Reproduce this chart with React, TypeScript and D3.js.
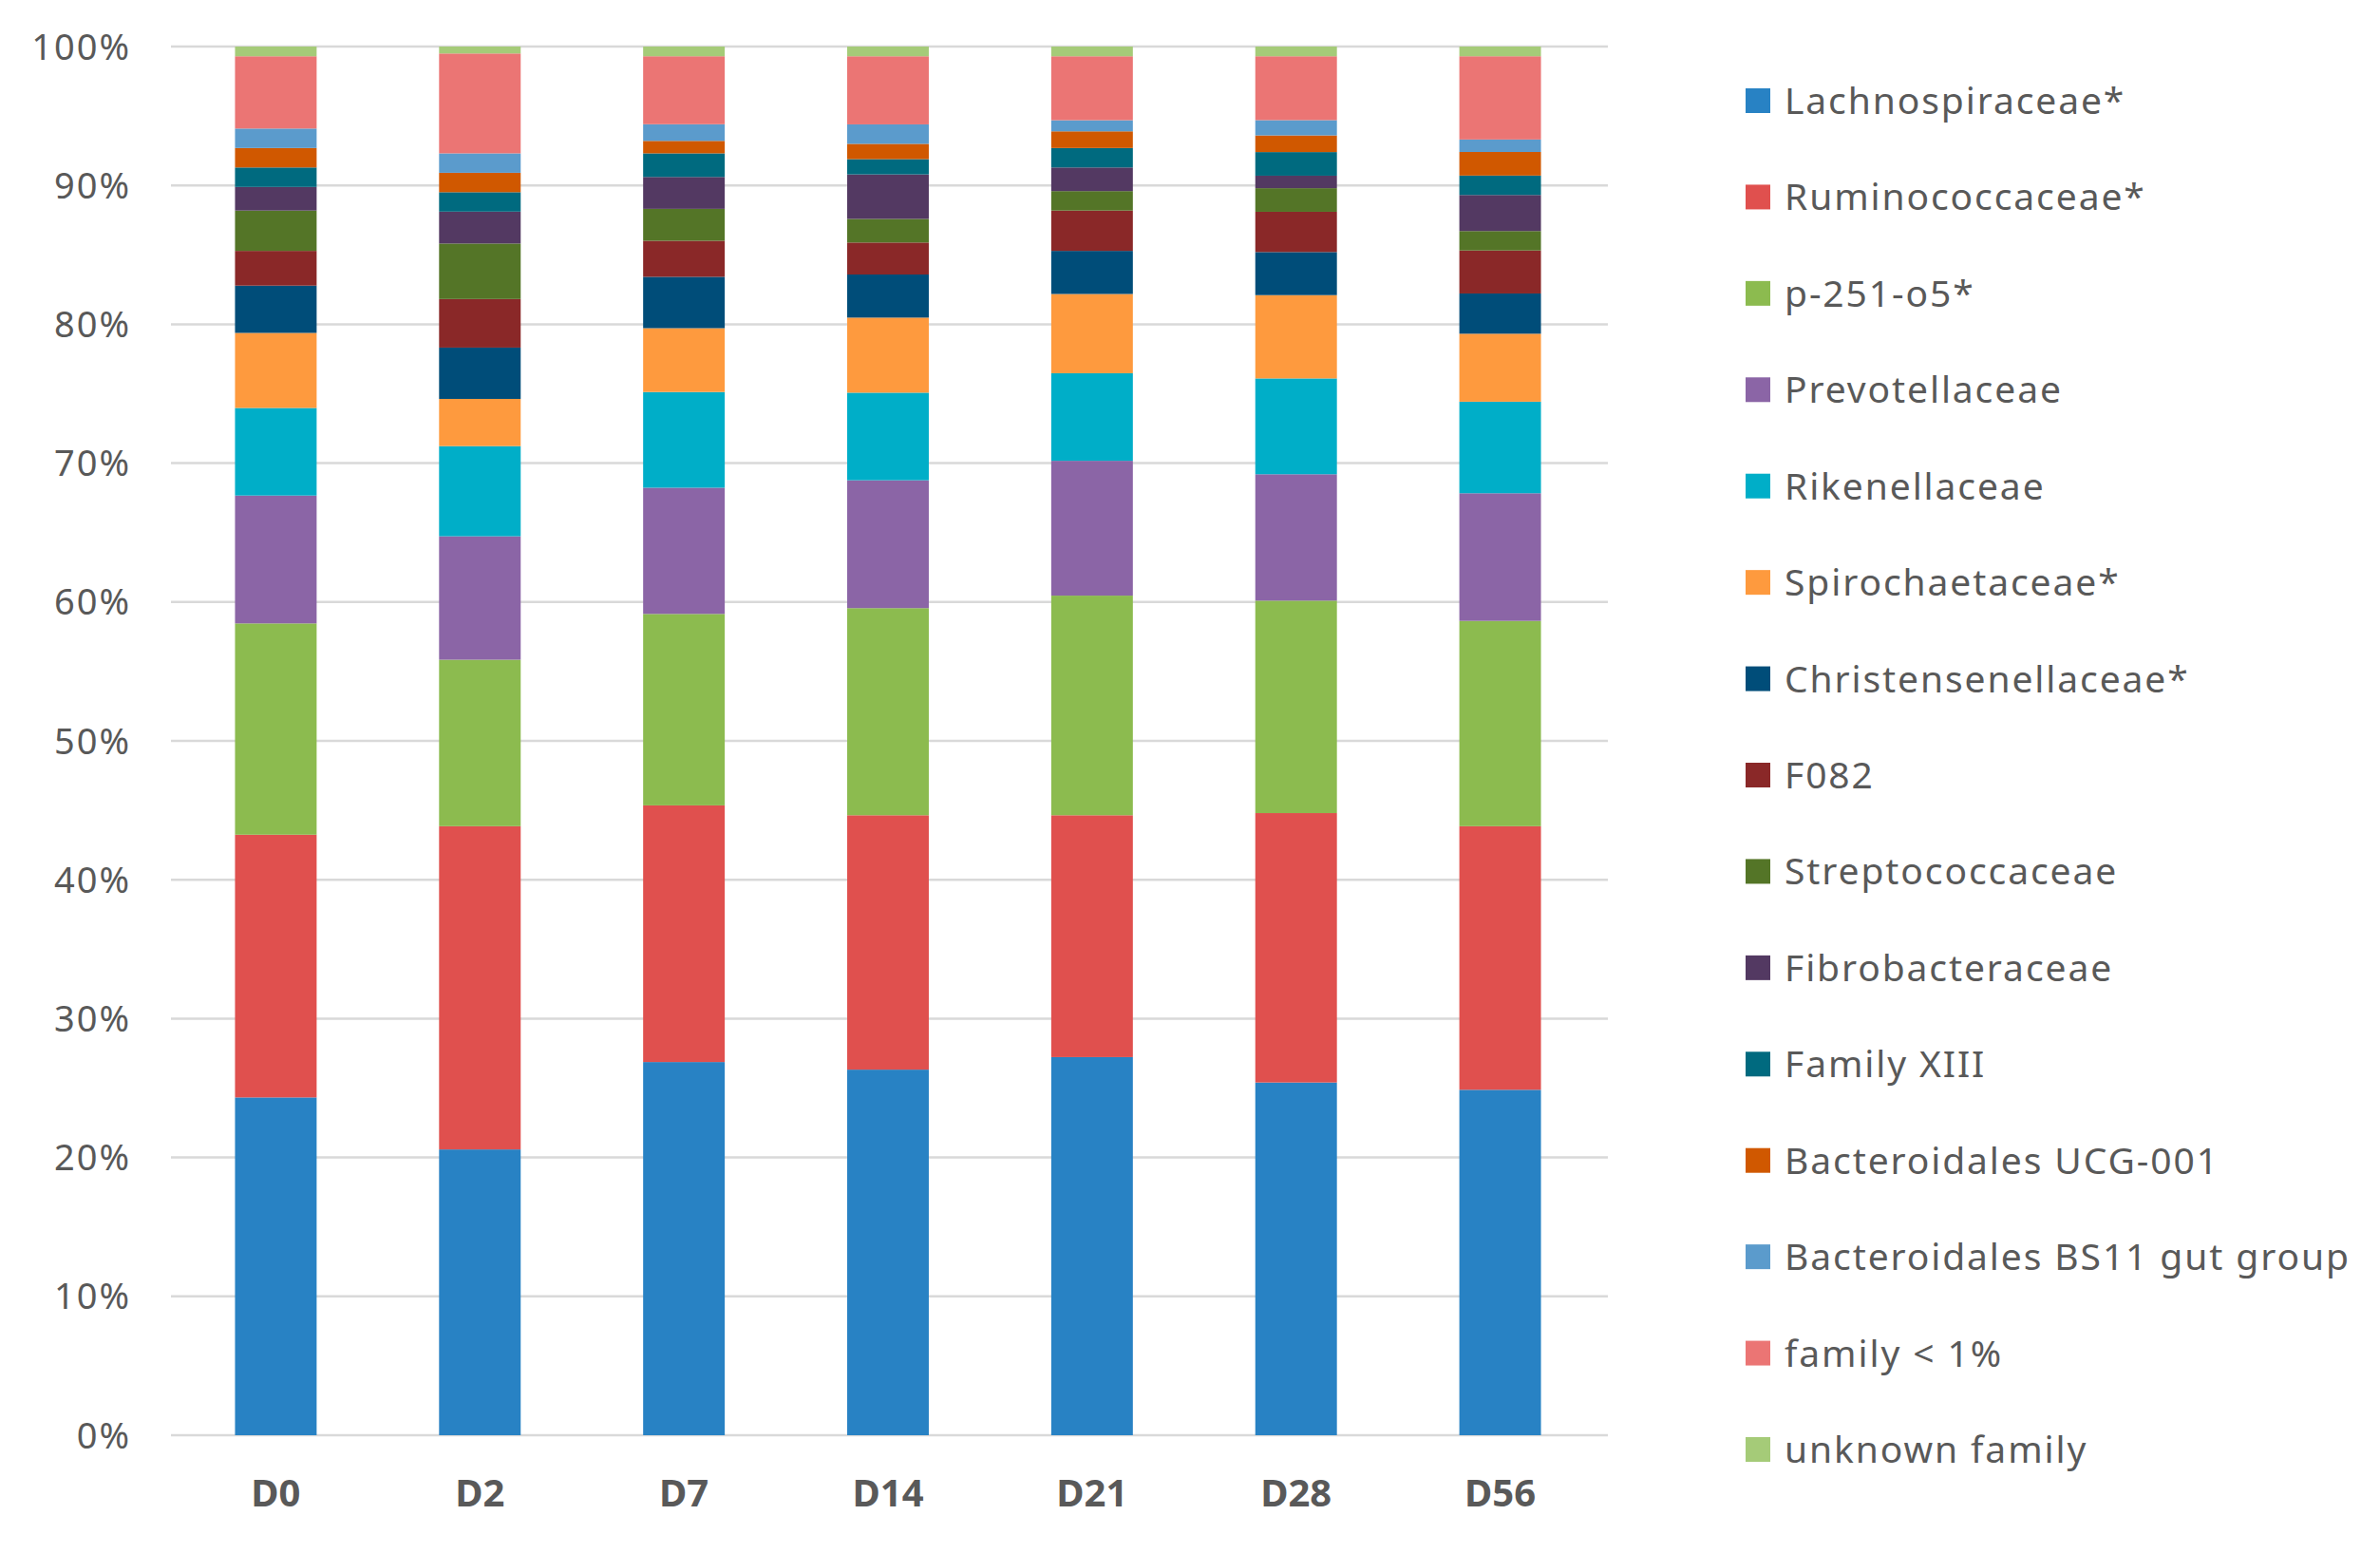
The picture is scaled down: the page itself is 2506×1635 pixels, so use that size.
import * as d3 from "d3";
import { useEffect } from "react";

const days = ["D0", "D2", "D7", "D14", "D21", "D28", "D56"];

const families = [
  "Lachnospiraceae*",
  "Ruminococcaceae*",
  "p-251-o5*",
  "Prevotellaceae",
  "Rikenellaceae",
  "Spirochaetaceae*",
  "Christensenellaceae*",
  "F082",
  "Streptococcaceae",
  "Fibrobacteraceae",
  "Family XIII",
  "Bacteroidales UCG-001",
  "Bacteroidales BS11 gut group",
  "family < 1%",
  "unknown family",
];

const colors = [
  "#2882C4", "#E0504E", "#8CBB4F", "#8B65A6", "#00AEC8",
  "#FE9A3E", "#004D79", "#8A2828", "#547527", "#533962",
  "#006A7F", "#D05800", "#5B9BCC", "#EB7574", "#A5CB78",
];

// relative abundance (%) per day, D0 .. D56
const lachnospiraceae = [24.3, 20.6, 26.9, 26.3, 27.2, 25.4, 24.9];
const ruminococcaceae = [18.9, 23.3, 18.5, 18.3, 17.4, 19.4, 19.0];
const p251o5 = [15.2, 12.0, 13.8, 14.9, 15.8, 15.3, 14.8];
const prevotellaceae = [9.2, 8.9, 9.1, 9.2, 9.7, 9.1, 9.2];
const rikenellaceae = [6.3, 6.5, 6.9, 6.3, 6.3, 6.9, 6.6];
const spirochaetaceae = [5.4, 3.4, 4.6, 5.4, 5.7, 6.0, 4.9];
const christensenellaceae = [3.4, 3.7, 3.7, 3.1, 3.1, 3.1, 2.9];
const f082 = [2.5, 3.5, 2.6, 2.3, 2.9, 2.9, 3.1];
const streptococcaceae = [2.9, 4.0, 2.3, 1.7, 1.4, 1.7, 1.4];
const fibrobacteraceae = [1.7, 2.3, 2.3, 3.2, 1.7, 0.9, 2.6];
const familyXIII = [1.4, 1.4, 1.7, 1.1, 1.4, 1.7, 1.4];
const bacteroidalesUCG001 = [1.4, 1.4, 0.9, 1.1, 1.2, 1.2, 1.7];
const bacteroidalesBS11 = [1.4, 1.4, 1.2, 1.4, 0.8, 1.1, 0.9];
const familyBelow1 = [5.2, 7.2, 4.9, 4.9, 4.6, 4.6, 6.0];
const unknownFamily = [0.7, 0.5, 0.7, 0.7, 0.7, 0.7, 0.7];

const seriesValues = [
  lachnospiraceae, ruminococcaceae, p251o5, prevotellaceae, rikenellaceae,
  spirochaetaceae, christensenellaceae, f082, streptococcaceae, fibrobacteraceae,
  familyXIII, bacteroidalesUCG001, bacteroidalesBS11, familyBelow1, unknownFamily,
];

const yTicks = [0, 0.1, 0.2, 0.3, 0.4, 0.5, 0.6, 0.7, 0.8, 0.9, 1];

const W = 2506;
const H = 1635;
const FONT = "'Noto Sans', 'DejaVu Sans', sans-serif";

export default function App() {
  useEffect(() => {
    document.body.style.margin = "0";
  }, []);

  const table = days.map((day, i) => {
    const row: Record<string, number | string> = { day };
    families.forEach((f, k) => (row[f] = seriesValues[k][i]));
    return row;
  });

  const stacked = d3
    .stack<Record<string, number | string>>()
    .keys(families)
    .value((d, key) => d[key] as number)
    .offset(d3.stackOffsetExpand)(table);

  // grid spans a bit wider than the bands
  const gridX0 = 180;
  const gridX1 = 1693;

  const x = d3
    .scaleBand<string>()
    .domain(days)
    .range([183, 1687])
    .paddingInner(0.6)
    .paddingOuter(0.3);

  const y = d3.scaleLinear().domain([0, 1]).range([1511, 49]);
  const fmt = d3.format(".0%");

  const legendY = d3
    .scalePoint<string>()
    .domain(families)
    .range([106, 1526]);

  return (
    <svg width={W} height={H} style={{ display: "block", background: "#fff" }}>
      <g>
        {yTicks.map((t) => (
          <g key={t}>
            <line x1={gridX0} x2={gridX1} y1={y(t)} y2={y(t)} stroke="#d9d9d9" strokeWidth={2.5} />
            <text
              x={138}
              y={y(t)}
              dy="0.36em"
              textAnchor="end"
              fontFamily={FONT}
              fontSize={38}
              letterSpacing={2}
              fill="#595959"
            >
              {fmt(t)}
            </text>
          </g>
        ))}
      </g>

      <g>
        {stacked.map((s, k) => (
          <g key={s.key} fill={colors[k]}>
            {s.map((d, i) => (
              <rect
                key={days[i]}
                x={x(days[i])}
                width={x.bandwidth()}
                y={y(d[1])}
                height={y(d[0]) - y(d[1])}
              />
            ))}
          </g>
        ))}
      </g>

      <g>
        {days.map((d) => (
          <text
            key={d}
            x={(x(d) ?? 0) + x.bandwidth() / 2}
            y={1572}
            dy="0.36em"
            textAnchor="middle"
            fontFamily={FONT}
            fontWeight="bold"
            fontSize={40}
            fill="#595959"
          >
            {d}
          </text>
        ))}
      </g>

      <g>
        {families.map((f, k) => (
          <g key={f} transform={`translate(1838,${legendY(f)})`}>
            <rect x={0} y={-13} width={26} height={26} fill={colors[k]} />
            <text
              x={41}
              y={0}
              dy="0.36em"
              fontFamily={FONT}
              fontSize={39}
              letterSpacing={1.9}
              fill="#595959"
            >
              {f}
            </text>
          </g>
        ))}
      </g>
    </svg>
  );
}
